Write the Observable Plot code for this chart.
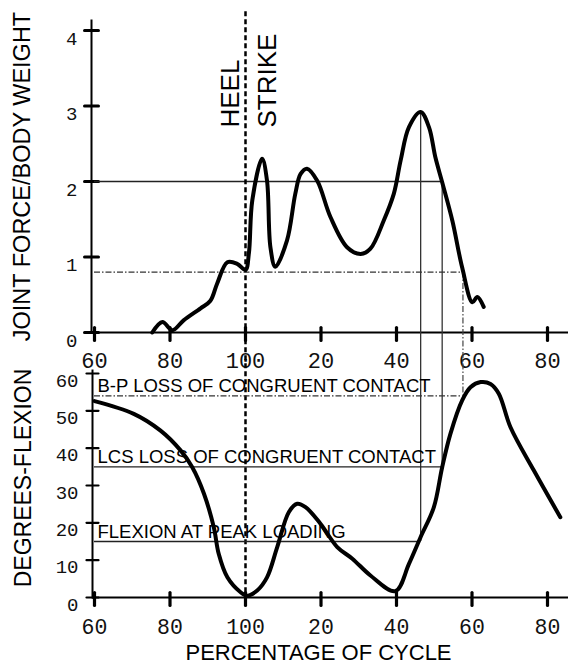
<!DOCTYPE html>
<html><head><meta charset="utf-8">
<script src="https://cdn.jsdelivr.net/npm/d3@7"></script>
<script src="https://cdn.jsdelivr.net/npm/@observablehq/plot@0.6"></script>
<style>
body{margin:0;background:#fff}
#wrap{position:relative;width:568px;height:664px;overflow:hidden;background:#fff}
#wrap svg{position:absolute;left:0;top:0;overflow:visible}
</style></head><body><div id="wrap"></div>
<script>
// ---- data ----
const cycleTicks = [60, 80, 100, 120, 140, 160, 180];
const cycleTickLabels = ["60", "80", "100", "20", "40", "60", "80"];
const forceTicks = [0, 1, 2, 3, 4];
const flexTicks = [0, 10, 20, 30, 40, 50, 60];

const forceCycle = [75.3, 78.0, 80.6, 83.6, 88.1, 90.7, 92.5, 95.2, 97.8, 100.0, 100.9, 101.8, 104.4, 105.7, 106.6, 107.9, 111.0, 113.2, 114.6, 116.3, 119.0, 122.5, 126.9, 130.5, 133.1, 136.6, 139.3, 141.1, 143.3, 146.4, 148.6, 150.3, 152.1, 154.8, 157.4, 160.1, 161.4, 163.1];
const forceValue = [0.0, 0.14, 0.03, 0.16, 0.32, 0.42, 0.65, 0.93, 0.91, 0.83, 1.05, 1.75, 2.30, 2.01, 1.13, 0.87, 1.22, 1.84, 2.10, 2.17, 2.01, 1.53, 1.13, 1.04, 1.11, 1.48, 1.84, 2.28, 2.72, 2.92, 2.72, 2.32, 1.99, 1.48, 0.86, 0.40, 0.47, 0.34];

const flexCycle = [60.0, 70.4, 77.5, 82.8, 85.9, 89.0, 91.6, 92.9, 95.2, 98.7, 100.4, 103.1, 105.7, 108.4, 111.5, 113.7, 115.9, 119.9, 124.3, 128.3, 133.1, 139.7, 143.3, 146.4, 149.9, 152.1, 154.3, 157.4, 159.6, 162.3, 164.9, 167.1, 170.2, 176.4, 183.4];
const flexValue = [52.6, 49.2, 44.7, 39.4, 34.9, 27.8, 18.8, 11.7, 5.4, 1.4, 0.5, 1.9, 5.4, 13.5, 22.9, 25.1, 24.2, 19.7, 13.5, 10.4, 5.9, 1.7, 9.0, 16.2, 24.2, 34.9, 43.9, 52.8, 56.3, 57.7, 57.2, 54.6, 45.6, 34.0, 21.5];

const heelStrike = 100;
const peakCycle = 146.4, peakForce = 2.92, flexionAtPeak = 15;
const lcsCycle = 152.1, lcsForce = 2, lcsFlexion = 35;
const bpCycle = 157.6, bpForce = 0.8, bpFlexion = 54;
const refLabels = ["B-P LOSS OF CONGRUENT CONTACT", "LCS LOSS OF CONGRUENT CONTACT", "FLEXION AT PEAK LOADING"];
const refFlexion = [bpFlexion, lcsFlexion, flexionAtPeak];

// ---- layout ----
const W = 568, H = 664;
const xOpts = {domain: [60, 180], range: [94, 547]};
const yTopOpts = {domain: [0, 4], range: [332, 30]};
const yBotOpts = {domain: [0, 60], range: [597, 373]};
const mkScale = o => (Plot.scale ? Plot.scale({y: o}) : (s => ({apply: s, invert: s.invert}))(d3.scaleLinear(o.domain, o.range)));
const yTopScale = mkScale(yTopOpts), yBotScale = mkScale(yBotOpts);
const toTop = v => yTopScale.invert(yBotScale.apply(v));

const forceData = forceCycle.map((x, i) => ({x, y: forceValue[i]}));
const flexData = flexCycle.map((x, i) => ({x, y: flexValue[i]}));
const lbl = d => cycleTickLabels[cycleTicks.indexOf(d)];
const intFmt = d => String(d);
const mono = "Liberation Mono, Courier New, monospace";
const sans = "Liberation Sans, Arial, sans-serif";
const dashDot = "6,2,1.5,2";

// tick shapes: horizontal bar centred on the axis, vertical bar starting at the axis
const hBar = {draw(ctx, l) { ctx.moveTo(-l / 2, 0); ctx.lineTo(l / 2, 0); }};
const vBar = {draw(ctx, l) { ctx.moveTo(0, 0); ctx.lineTo(0, l); }};

const topPlot = Plot.plot({
  width: W, height: H,
  marginLeft: 91, marginRight: 0, marginTop: 20, marginBottom: H - 332,
  x: xOpts, y: yTopOpts,
  style: {background: "transparent", overflow: "visible"},
  marks: [
    Plot.frame({anchor: "left", stroke: "#000", strokeWidth: 2}),
    Plot.ruleY([0], {stroke: "#000", strokeWidth: 2}),
    Plot.vectorY(forceTicks, {y: d => d, frameAnchor: "left", length: 14, rotate: 0, anchor: "start", stroke: "#000", strokeWidth: 3, shape: hBar}),
    Plot.axisY(forceTicks, {tickSize: 0, tickPadding: 14, dy: 8, tickFormat: intFmt, fontSize: 19, fontFamily: mono, fill: "#111", label: null}),
    Plot.vectorX(cycleTicks, {x: d => d, y: () => 0, length: 13, rotate: 0, anchor: "start", dy: -5, stroke: "#000", strokeWidth: 3.2, shape: vBar}),
    Plot.axisX(cycleTicks, {tickSize: 0, tickPadding: 20, tickFormat: lbl, fontSize: 22, fontFamily: mono, fill: "#111", label: null}),
    Plot.ruleY([lcsForce], {x1: 60, x2: lcsCycle, stroke: "#222", strokeWidth: 1.3}),
    Plot.ruleY([bpForce], {x1: 60, x2: bpCycle, stroke: "#333", strokeWidth: 1.2, strokeDasharray: dashDot}),
    Plot.ruleX([peakCycle], {y1: peakForce, y2: toTop(flexionAtPeak), stroke: "#333", strokeWidth: 1.3}),
    Plot.ruleX([lcsCycle], {y1: lcsForce, y2: toTop(lcsFlexion), stroke: "#333", strokeWidth: 1.3}),
    Plot.ruleX([bpCycle], {y1: bpForce, y2: toTop(bpFlexion), stroke: "#444", strokeWidth: 1.2, strokeDasharray: dashDot}),
    Plot.ruleX([heelStrike], {y1: 4.25, y2: toTop(0), stroke: "#000", strokeWidth: 2.5, strokeDasharray: "5,3"}),
    Plot.line(forceData, {x: "x", y: "y", curve: "catmull-rom", stroke: "#000", strokeWidth: 4, strokeLinejoin: "round", strokeLinecap: "round"}),
    Plot.text(["HEEL"], {x: [heelStrike], frameAnchor: "top", dx: -7, dy: 107, rotate: -90, textAnchor: "start", lineAnchor: "bottom", fontSize: 26, fontFamily: sans, fill: "#000"}),
    Plot.text(["STRIKE"], {x: [heelStrike], frameAnchor: "top", dx: 30, dy: 107, rotate: -90, textAnchor: "start", lineAnchor: "bottom", fontSize: 26, fontFamily: sans, fill: "#000"}),
    Plot.text(["JOINT FORCE/BODY WEIGHT"], {frameAnchor: "left", dx: -69, dy: 0, rotate: -90, textAnchor: "middle", lineAnchor: "middle", fontSize: 23.5, fontFamily: sans, fill: "#000"})
  ]
});

const bottomPlot = Plot.plot({
  width: W, height: H,
  marginLeft: 92, marginRight: 0, marginTop: 370, marginBottom: H - 597,
  x: xOpts, y: yBotOpts,
  style: {background: "transparent", overflow: "visible"},
  marks: [
    Plot.frame({anchor: "left", stroke: "#000", strokeWidth: 2}),
    Plot.ruleY([0], {stroke: "#000", strokeWidth: 2}),
    Plot.vectorY(flexTicks, {y: d => d, frameAnchor: "left", length: 12, rotate: 0, anchor: "start", stroke: "#000", strokeWidth: 2.2, shape: hBar}),
    Plot.axisY(flexTicks, {tickSize: 0, tickPadding: 14, dy: 7, tickFormat: intFmt, fontSize: 19, fontFamily: mono, fill: "#111", label: null}),
    Plot.vectorX(cycleTicks, {x: d => d, y: () => 0, length: 13, rotate: 0, anchor: "start", dy: -5, stroke: "#000", strokeWidth: 3.2, shape: vBar}),
    Plot.axisX(cycleTicks, {tickSize: 0, tickPadding: 21, tickFormat: lbl, fontSize: 21.5, fontFamily: mono, fill: "#111", label: null}),
    Plot.ruleY([bpFlexion], {x1: 60, x2: bpCycle, stroke: "#333", strokeWidth: 1.2, strokeDasharray: dashDot}),
    Plot.ruleY([lcsFlexion], {x1: 60, x2: lcsCycle, stroke: "#222", strokeWidth: 1.3}),
    Plot.ruleY([flexionAtPeak], {x1: 60, x2: peakCycle, stroke: "#222", strokeWidth: 1.3}),
    Plot.text(refLabels, {x: () => 60, y: (d, i) => refFlexion[i], dx: 3, dy: -4, textAnchor: "start", lineAnchor: "bottom", fontSize: 18.5, fontFamily: sans, fill: "#000"}),
    Plot.line(flexData, {x: "x", y: "y", curve: "catmull-rom", stroke: "#000", strokeWidth: 4, strokeLinejoin: "round", strokeLinecap: "round"}),
    Plot.text(["DEGREES-FLEXION"], {frameAnchor: "left", dx: -68.5, dy: -6, rotate: -90, textAnchor: "middle", lineAnchor: "middle", fontSize: 23, fontFamily: sans, fill: "#000"}),
    Plot.text(["PERCENTAGE OF CYCLE"], {frameAnchor: "bottom", dx: -12, dy: 62.5, textAnchor: "middle", lineAnchor: "bottom", fontSize: 22, fontFamily: sans, fill: "#000"})
  ]
});

const wrap = document.getElementById("wrap");
wrap.appendChild(topPlot);
wrap.appendChild(bottomPlot);
</script></body></html>
